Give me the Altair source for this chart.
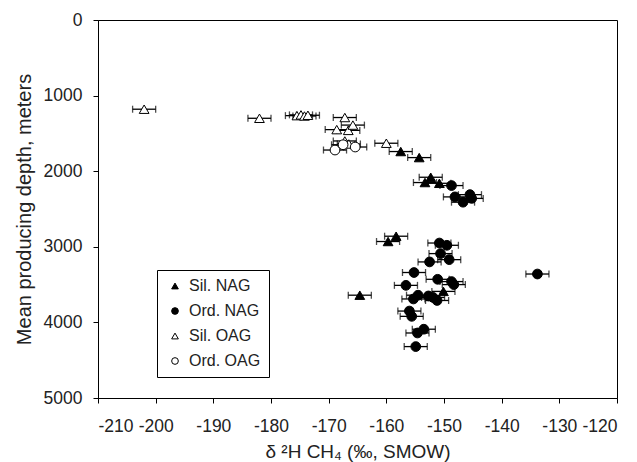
import altair as alt
import pandas as pd

# Values
groups = ["Sil. NAG", "Ord. NAG", "Sil. OAG", "Ord. OAG"]

sil_nag_d2h = [-157.5, -154.3, -152.3, -153.3, -150.8, -158.3, -159.7, -150.1, -164.6]
sil_nag_depth = [1740, 1820, 2080, 2150, 2160, 2860, 2930, 3590, 3640]

ord_nag_d2h = [-148.7, -148.1, -145.5, -145.2, -146.7,
               -150.8, -149.5, -150.6, -152.5, -149.1,
               -155.2, -133.8, -156.6, -151.1, -148.7, -148.3,
               -154.5, -155.3, -152.7, -151.9, -151.2,
               -156.0, -155.6, -153.5, -154.6, -154.9]
ord_nag_depth = [2190, 2340, 2310, 2360, 2410,
                 2950, 2980, 3090, 3200, 3170,
                 3340, 3360, 3510, 3430, 3460, 3500,
                 3640, 3690, 3650, 3670, 3710,
                 3850, 3920, 4090, 4140, 4320]

sil_oag_d2h = [-202.0, -182.0, -175.5, -174.8, -174.2, -173.6, -167.2,
               -168.6, -166.6, -165.8, -160.0, -167.2, -166.5]
sil_oag_depth = [1180, 1300, 1265, 1255, 1270, 1260, 1290,
                 1450, 1460, 1390, 1630, 1600, 1640]

ord_oag_d2h = [-168.9, -165.4, -167.5]
ord_oag_depth = [1720, 1680, 1650]

err = 2.0  # analytical uncertainty (per mil)

rows = []
for g, xs, ys in [
    (groups[0], sil_nag_d2h, sil_nag_depth),
    (groups[1], ord_nag_d2h, ord_nag_depth),
    (groups[2], sil_oag_d2h, sil_oag_depth),
    (groups[3], ord_oag_d2h, ord_oag_depth),
]:
    for x, y in zip(xs, ys):
        rows.append({"group": g, "d2h": x, "depth": y, "lo": x - err, "hi": x + err})
df = pd.DataFrame(rows)

FONT = "Liberation Sans"

xscale = alt.Scale(domain=[-210, -120], nice=False, zero=False)
yscale = alt.Scale(domain=[0, 5000], reverse=True, nice=False)

xaxis = alt.Axis(
    values=list(range(-210, -119, 10)),
    labelExpr="'' + datum.value",
    title="δ ²H CH₄ (‰, SMOW)",
    grid=False, tickSize=5, labelPadding=14, titlePadding=8,
    labelFontSize=17.5, titleFontSize=19,
)
yaxis = alt.Axis(
    values=list(range(0, 5001, 1000)),
    labelExpr="'' + datum.value",
    title="Mean producing depth, meters",
    grid=False, tickSize=5, labelPadding=11, titlePadding=9,
    labelFontSize=17.5, titleFontSize=20,
)

base = alt.Chart(df)

bars = base.mark_rule(color="black", strokeWidth=1.3).encode(
    x=alt.X("lo:Q", scale=xscale, axis=xaxis),
    x2="hi:Q",
    y=alt.Y("depth:Q", scale=yscale, axis=yaxis),
)
cap_lo = base.mark_tick(color="black", orient="vertical", size=7, thickness=1.3).encode(
    x=alt.X("lo:Q", scale=xscale), y=alt.Y("depth:Q", scale=yscale)
)
cap_hi = base.mark_tick(color="black", orient="vertical", size=7, thickness=1.3).encode(
    x=alt.X("hi:Q", scale=xscale), y=alt.Y("depth:Q", scale=yscale)
)

leg = alt.Legend(title=None)

points = base.mark_point(filled=True, strokeWidth=1, opacity=1, size=95).encode(
    x=alt.X("d2h:Q", scale=xscale),
    y=alt.Y("depth:Q", scale=yscale),
    shape=alt.Shape(
        "group:N",
        scale=alt.Scale(domain=groups, range=["triangle-up", "circle", "triangle-up", "circle"]),
        legend=leg,
    ),
    fill=alt.Fill(
        "group:N",
        scale=alt.Scale(domain=groups, range=["black", "black", "white", "white"]),
        legend=leg,
    ),
    stroke=alt.Stroke(
        "group:N",
        scale=alt.Scale(domain=groups, range=["black", "black", "black", "black"]),
        legend=leg,
    ),
)

chart = alt.layer(bars, cap_lo, cap_hi, points).properties(
    width=519,
    height=378,
    padding={"left": 90, "top": 12, "right": 12, "bottom": 64},
    autosize=alt.AutoSizeParams(type="none"),
).configure_view(
    stroke="black", strokeWidth=1
).configure_axis(
    labelFont=FONT, titleFont=FONT, labelColor="#222", titleColor="#222",
    titleFontWeight="normal", domainColor="black", tickColor="black",
    domainWidth=1, tickWidth=1,
).configure_legend(
    orient="none", legendX=59, legendY=250,
    strokeColor="black", padding=8,
    labelFont=FONT, labelFontSize=16, labelColor="#222",
    symbolSize=45, symbolStrokeWidth=1,
    rowPadding=9, symbolOffset=2, labelOffset=6,
)

chart.save("out.html", embed_options={"renderer": "svg", "actions": False})
